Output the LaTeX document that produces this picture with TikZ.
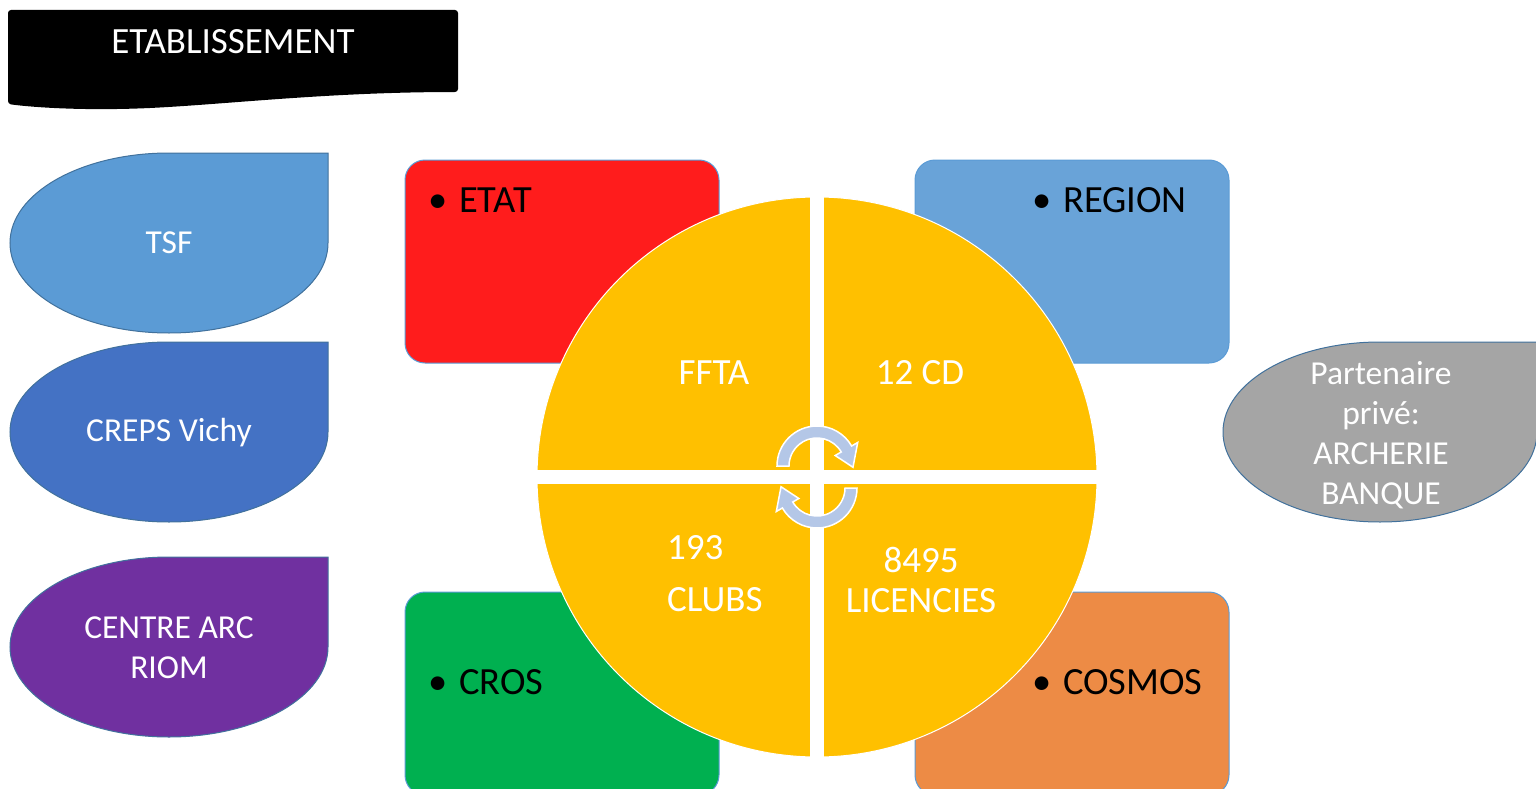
\documentclass[tikz,border=0pt]{standalone}
\usepackage{fontspec}
\setmainfont{Carlito}
\usetikzlibrary{positioning,calc}
\definecolor{tsfblue}{HTML}{5B9BD5}
\definecolor{crepsblue}{HTML}{4472C4}
\definecolor{arcpurple}{HTML}{7030A0}
\definecolor{edgeblue}{HTML}{41719C}
\definecolor{partgray}{HTML}{A5A5A5}
\definecolor{etatred}{HTML}{FF1C1C}
\definecolor{regionblue}{HTML}{69A3D8}
\definecolor{crosgreen}{HTML}{00B050}
\definecolor{cosmosorange}{HTML}{ED8B45}
\definecolor{quadyellow}{HTML}{FFC000}
\definecolor{cyclearrow}{HTML}{B4C7E7}
% drop shape: centre x, centre y, x radius, y radius, colour
\newcommand{\dropshape}[5]{\filldraw[fill=#5, draw=edgeblue, line width=1] (#1+#3, #2-#4) -- (#1, #2-#4) arc[start angle=-90, end angle=-270, x radius=#3, y radius=#4] arc[start angle=-270, end angle=-360, x radius=#3, y radius=#4] -- cycle;}

\begin{document}
\begin{tikzpicture}[x=1pt, y=-1pt, box/.style={rectangle, rounded corners=20, draw=tsfblue, line width=1, minimum width=314, minimum height=203, inner sep=0}, wtext/.style={text=white, font=\fontsize{33.5}{40}\selectfont, align=center, inner sep=0}, dtext/.style={wtext, font=\fontsize{37}{40}\selectfont}, item/.style={anchor=base west, inner sep=0, font=\fontsize{38.5}{43}\selectfont}, cycle/.style={fill=cyclearrow, draw=white, line width=1.5}]
  \useasboundingbox (0,0) rectangle (1536,789);
  % banner
  \fill[black, rounded corners=3] (8,10) -- (458,10) -- (458,92) .. controls (330,92) and (230,104) .. (150,108) .. controls (80,111) and (30,107) .. (8,104) -- cycle;
  \node[dtext] (etab) at (233,42) {ETABLISSEMENT};
  % left column
  \dropshape{169}{243}{159}{90}{tsfblue}
  \dropshape{169}{432}{159}{90}{crepsblue}
  \dropshape{169}{647}{159}{90}{arcpurple}
  \node[wtext] (tsf) at (169,243) {TSF};
  \node[wtext] (creps) at (169,433) {CREPS Vichy};
  \node[wtext] (riom) at (169,648) {CENTRE ARC\\RIOM};
  % partner
  \dropshape{1380}{432}{157}{90}{partgray}
  \node[wtext] (partner) at (1381,435) {Partenaire\\privé:\\ARCHERIE\\BANQUE};
  % corner boxes
  \node[box, fill=etatred] (etat) at (562,261.5) {};
  \node[box, fill=regionblue] (region) at (1072,261.5) {};
  \node[box, fill=crosgreen] (cros) at (562,693.5) {};
  \node[box, fill=cosmosorange] (cosmos) at (1072,693.5) {};
  \node[item] (etattext) at (428,212) {\makebox[31pt][l]{•}ETAT};
  \node[item] (regiontext) at (1032,212) {\makebox[31pt][l]{•}REGION};
  \node[item] (crostext) at (428,694) {\makebox[31pt][l]{•}CROS};
  \node[item] (cosmostext) at (1032,694) {\makebox[31pt][l]{•}COSMOS};
  % centre disc
  \node[circle, fill=quadyellow, draw=white, line width=1, minimum size=560, inner sep=0] (disc) at (817,477) {};
  \draw[white, line width=14] (disc.west) -- (disc.east);
  \draw[white, line width=14] (disc.north) -- (disc.south);
  \node[dtext] (ffta) at (714,373) {FFTA};
  \node[dtext] (cd) at (920,373) {12 CD};
  \node[dtext, align=left, anchor=west] (clubs) at (667,574) {193\\[12pt]CLUBS};
  \node[dtext] (licences) at (921,580) {8495\\LICENCIES};
  % cycle arrows
  \coordinate (up) at (817,466);
  \coordinate (dn) at (817,488);
  \filldraw[cycle] ($(up)+(180:40)$) arc[start angle=180, end angle=330, radius=40] -- ($(up)+(330:47)$) -- ($(up)+(2:36)$) -- ($(up)+(330:21)$) -- ($(up)+(330:28)$) arc[start angle=330, end angle=180, radius=28] -- cycle;
  \filldraw[cycle] ($(dn)+(0:40)$) arc[start angle=0, end angle=150, radius=40] -- ($(dn)+(150:47)$) -- ($(dn)+(182:36)$) -- ($(dn)+(150:21)$) -- ($(dn)+(150:28)$) arc[start angle=150, end angle=0, radius=28] -- cycle;
\end{tikzpicture}
\end{document}
